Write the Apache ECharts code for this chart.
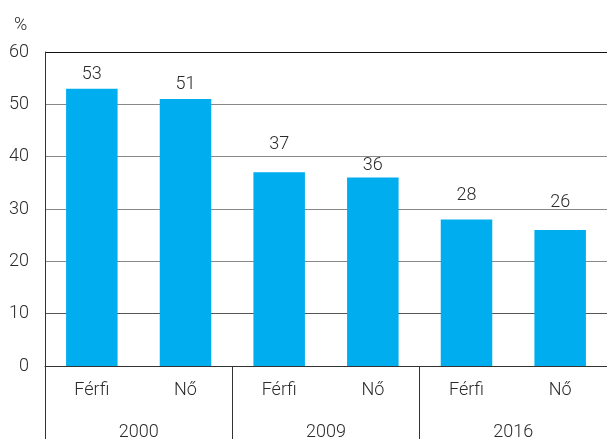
<!DOCTYPE html>
<html>
<head>
<meta charset="utf-8">
<script src="https://cdn.jsdelivr.net/npm/echarts@6/dist/echarts.min.js"></script>
<style>
  html, body { margin: 0; padding: 0; background: #fff; }
  #chart { width: 607px; height: 441px; }
</style>
</head>
<body>
<div id="chart"></div>
<script>
// adatok
const categories = ['Férfi', 'Nő', 'Férfi', 'Nő', 'Férfi', 'Nő'];
const years = ['2000', '2009', '2016'];
const values = [53, 51, 37, 36, 28, 26];

// címkék távolsága az oszlop tetejétől (az eredeti ábra szerint)
const labelGap = [5, 6, 19, 3, 15, 18];

const font = 'Roboto';
const textColor = '#2b2b2b';
const textStyle = { fontFamily: font, fontWeight: 300, fontSize: 18, color: textColor };

const chart = echarts.init(document.getElementById('chart'));
chart.setOption({
  animation: false,
  title: {
    text: '%',
    left: 9,
    top: 11,
    textStyle: textStyle
  },
  grid: { left: 45, right: -4, top: 52, bottom: 73, containLabel: false },
  xAxis: [
    {
      type: 'category',
      data: categories,
      axisLine: { lineStyle: { color: '#333', width: 1 } },
      axisTick: { show: false },
      axisLabel: Object.assign({ margin: 15 }, textStyle)
    },
    {
      type: 'category',
      data: years,
      position: 'bottom',
      axisLine: { show: false },
      axisTick: { show: true, length: 73, lineStyle: { color: '#333', width: 1 } },
      axisLabel: Object.assign({ margin: 57 }, textStyle)
    }
  ],
  yAxis: {
    type: 'value',
    min: 0,
    max: 60,
    interval: 10,
    axisLine: { show: true, lineStyle: { color: '#333', width: 1 } },
    axisTick: { show: false },
    axisLabel: Object.assign({ margin: 16 }, textStyle),
    splitLine: {
      lineStyle: {
        color: ['#333', '#555', '#888', '#888', '#888', '#888', '#111'],
        width: 1
      }
    }
  },
  series: [
    {
      type: 'bar',
      data: values.map((v, i) => ({
        value: v,
        label: { distance: labelGap[i] }
      })),
      barWidth: '55%',
      itemStyle: { color: '#00AEEF' },
      label: Object.assign({ show: true, position: 'top' }, textStyle)
    }
  ]
});
</script>
</body>
</html>
